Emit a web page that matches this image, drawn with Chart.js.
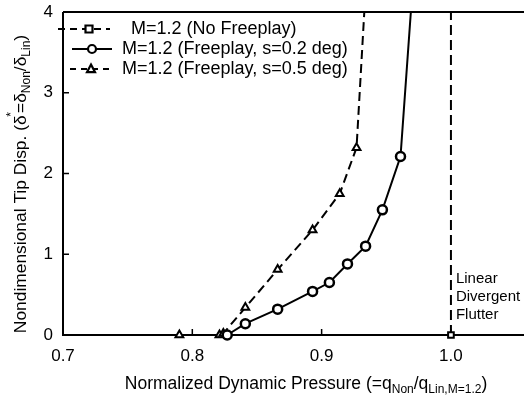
<!DOCTYPE html>
<html>
<head>
<meta charset="utf-8">
<script src="https://cdn.jsdelivr.net/npm/chart.js@4.4.0/dist/chart.umd.min.js"></script>
<style>
    html, body { margin: 0; padding: 0; background: #fff; overflow: hidden; }
    #wrap { width: 524px; height: 398px; }
</style>
</head>
<body>
<div id="wrap"><canvas id="flutterChart"></canvas></div>
<script>
// data
const seriesNames = ['M=1.2 (No Freeplay)', 'M=1.2 (Freeplay, s=0.2 deg)', 'M=1.2 (Freeplay, s=0.5 deg)'];

const noFreeplayX = [1.0, 1.0];
const noFreeplayY = [0, 4.0];

const fp02X = [0.827, 0.841, 0.866, 0.893, 0.906, 0.920, 0.934, 0.947, 0.961, 0.969];
const fp02Y = [0, 0.14, 0.32, 0.54, 0.65, 0.88, 1.10, 1.55, 2.21, 4.0];

const fp05X = [0.790, 0.821, 0.824, 0.841, 0.866, 0.893, 0.914, 0.927, 0.933];
const fp05Y = [0, 0, 0.02, 0.34, 0.81, 1.30, 1.75, 2.32, 4.0];

const xTickLabels = [0.7, 0.8, 0.9, 1.0];
const yTickLabels = [0, 1, 2, 3, 4];

const annotationLines = ['Linear', 'Divergent', 'Flutter'];

const FONT = '"Liberation Sans", Arial, sans-serif';

function toPoints(xs, ys) {
    return xs.map((x, i) => ({ x: x, y: ys[i] }));
}

// marker radius per point, last point of the curves is only the line running off the top
function radii(n, r, lastHidden) {
    const arr = new Array(n).fill(r);
    if (lastHidden) arr[n - 1] = 0;
    return arr;
}

function drawMarker(ctx, style, x, y, r) {
    ctx.save();
    ctx.setLineDash([]);
    ctx.fillStyle = '#fff';
    ctx.strokeStyle = '#000';
    ctx.lineWidth = 2.2;
    ctx.beginPath();
    if (style === 'circle') {
        ctx.arc(x, y, r, 0, Math.PI * 2);
    } else if (style === 'rect') {
        ctx.rect(x - r, y - r, r * 2, r * 2);
    } else {
        ctx.moveTo(x, y - r * 1.1);
        ctx.lineTo(x + r, y + r * 0.8);
        ctx.lineTo(x - r, y + r * 0.8);
        ctx.closePath();
    }
    ctx.fill();
    ctx.stroke();
    ctx.restore();
}

// text with sub/superscripts: parts = [[text, 'n'|'sub'|'sup'], ...]
function partFont(p, size) {
    return (p[1] === 'n' ? size : Math.round(size * 0.7)) + 'px ' + FONT;
}

function drawRich(ctx, parts, cx, cy, size) {
    let total = 0;
    parts.forEach(p => {
        ctx.font = partFont(p, size);
        total += ctx.measureText(p[0]).width * (p[1] === 'sup' ? 0.5 : 1);
    });
    let x = cx - total / 2;
    ctx.textBaseline = 'middle';
    ctx.textAlign = 'left';
    ctx.fillStyle = '#000';
    parts.forEach(p => {
        ctx.font = partFont(p, size);
        const w = ctx.measureText(p[0]).width;
        if (p[1] === 'n') {
            ctx.fillText(p[0], x, cy);
            x += w;
        } else if (p[1] === 'sub') {
            ctx.fillText(p[0], x, cy + size * 0.3);
            x += w;
        } else {
            ctx.fillText(p[0], x - w * 0.3, cy - size * 0.55);
            x += w * 0.5;
        }
    });
}

const framePlugin = {
    id: 'frame',
    beforeDatasetsDraw(chart) {
        const ctx = chart.ctx;
        const a = chart.chartArea;
        const xs = chart.scales.x, ys = chart.scales.y;
        ctx.save();
        ctx.strokeStyle = '#000';
        ctx.lineWidth = 2;
        ctx.beginPath();
        ctx.moveTo(a.left, a.top);
        ctx.lineTo(chart.width, a.top);
        ctx.moveTo(a.left, a.top);
        ctx.lineTo(a.left, a.bottom);
        ctx.lineTo(chart.width, a.bottom);
        ctx.stroke();
        // inward ticks
        ctx.lineWidth = 1.5;
        ctx.beginPath();
        xTickLabels.forEach(v => {
            const px = xs.getPixelForValue(v);
            ctx.moveTo(px, a.bottom);
            ctx.lineTo(px, a.bottom - 6);
        });
        yTickLabels.forEach(v => {
            const py = ys.getPixelForValue(v);
            ctx.moveTo(a.left, py);
            ctx.lineTo(a.left + 6, py);
        });
        ctx.stroke();
        ctx.restore();
    },
    afterDraw(chart) {
        const ctx = chart.ctx;
        const xs = chart.scales.x;
        ctx.save();

        // legend inside the top-left corner
        const rows = [
            { y: 29, x0: 58, x1: 110, mx: 89, tx: 131, style: 'rect', dash: [7, 5] },
            { y: 49, x0: 72, x1: 112, mx: 92, tx: 122, style: 'circle', dash: [] },
            { y: 69, x0: 70, x1: 112, mx: 91, tx: 122, style: 'triangle', dash: [6, 5] }
        ];
        rows.forEach((r, i) => {
            ctx.strokeStyle = '#000';
            ctx.lineWidth = 2;
            ctx.setLineDash(r.dash);
            ctx.beginPath();
            ctx.moveTo(r.x0, r.y);
            ctx.lineTo(r.x1, r.y);
            ctx.stroke();
            ctx.setLineDash([]);
            drawMarker(ctx, r.style, r.mx, r.y, r.style === 'rect' ? 3.5 : 4);
            ctx.fillStyle = '#000';
            ctx.font = '18px ' + FONT;
            ctx.textAlign = 'left';
            ctx.textBaseline = 'middle';
            ctx.fillText(seriesNames[i], r.tx, r.y);
        });

        // annotation next to the linear flutter line
        ctx.font = '15px ' + FONT;
        ctx.textAlign = 'left';
        ctx.textBaseline = 'middle';
        const ax = xs.getPixelForValue(1.0) + 5;
        annotationLines.forEach((t, i) => {
            ctx.fillText(t, ax, 279 + i * 18);
        });

        // axis titles
        drawRich(ctx, [
            ['Normalized Dynamic Pressure (=q', 'n'], ['Non', 'sub'], ['/q', 'n'], ['Lin,M=1.2', 'sub'], [')', 'n']
        ], 306, 384, 17.5);

        ctx.translate(21, 184);
        ctx.rotate(-Math.PI / 2);
        drawRich(ctx, [
            ['Nondimensional Tip Disp. (\u03b4', 'n'], ['*', 'sup'], ['=\u03b4', 'n'], ['Non', 'sub'], ['/\u03b4', 'n'], ['Lin', 'sub'], [')', 'n']
        ], 0, 0, 17.4);
        ctx.restore();
    }
};

const chartCanvas = document.getElementById('flutterChart');

new Chart(chartCanvas, {
    type: 'scatter',
    data: {
        datasets: [{
            label: seriesNames[0],
            data: toPoints(noFreeplayX, noFreeplayY),
            showLine: true,
            borderColor: '#000',
            borderWidth: 2,
            borderDash: [10, 5],
            pointStyle: 'rect',
            pointRadius: radii(noFreeplayX.length, 4, true),
            pointBackgroundColor: '#fff',
            pointBorderColor: '#000',
            pointBorderWidth: 2,
            clip: false
        }, {
            label: seriesNames[1],
            data: toPoints(fp02X, fp02Y),
            showLine: true,
            borderColor: '#000',
            borderWidth: 2,
            pointStyle: 'circle',
            pointRadius: radii(fp02X.length, 4.5, true),
            pointBackgroundColor: '#fff',
            pointBorderColor: '#000',
            pointBorderWidth: 2.5,
            clip: false
        }, {
            label: seriesNames[2],
            data: toPoints(fp05X, fp05Y),
            showLine: true,
            borderColor: '#000',
            borderWidth: 2,
            borderDash: [9, 5],
            pointStyle: 'triangle',
            pointRadius: radii(fp05X.length, 4.5, true),
            pointBackgroundColor: '#fff',
            pointBorderColor: '#000',
            pointBorderWidth: 2,
            clip: false
        }]
    },
    options: {
        responsive: true,
        maintainAspectRatio: false,
        animation: false,
        layout: {
            autoPadding: false,
            padding: { top: 12, right: 0, left: 0, bottom: 0 }
        },
        plugins: {
            legend: { display: false },
            tooltip: { enabled: false }
        },
        scales: {
            x: {
                type: 'linear',
                min: 0.7,
                max: 1.0565,
                afterFit: s => {
                    s.height = 63;
                    s.paddingLeft = 0;
                    s.paddingRight = 0;
                },
                afterBuildTicks: s => { s.ticks = xTickLabels.map(v => ({ value: v })); },
                grid: { display: false, drawTicks: false },
                border: { display: false },
                ticks: {
                    color: '#000',
                    padding: 11,
                    font: { family: FONT, size: 17 },
                    callback: v => Number(v).toFixed(1)
                }
            },
            y: {
                type: 'linear',
                min: 0,
                max: 4,
                afterFit: s => {
                    s.width = 63;
                    s.paddingTop = 0;
                    s.paddingBottom = 0;
                },
                afterBuildTicks: s => { s.ticks = yTickLabels.map(v => ({ value: v })); },
                grid: { display: false, drawTicks: false },
                border: { display: false },
                ticks: {
                    color: '#000',
                    padding: 10,
                    font: { family: FONT, size: 17 }
                }
            }
        }
    },
    plugins: [framePlugin]
});
</script>
</body>
</html>
